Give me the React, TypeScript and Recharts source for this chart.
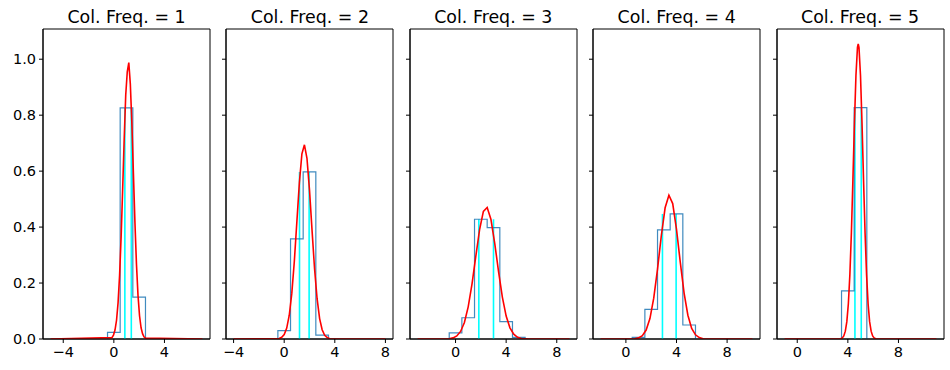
import { ComposedChart, Line, XAxis, YAxis, ReferenceLine, ReferenceArea } from 'recharts';

const titles = ['Col. Freq. = 1', 'Col. Freq. = 2', 'Col. Freq. = 3', 'Col. Freq. = 4', 'Col. Freq. = 5'];
const xDomains = [[-5.6, 7.6], [-4.6, 8.6], [-3.6, 9.6], [-2.6, 10.6], [-1.6, 11.6]];
const xTicks = [[-4, 0, 4], [-4, 0, 4, 8], [0, 4, 8], [0, 4, 8], [0, 4, 8]];
const yTicks = [0, 0.2, 0.4, 0.6, 0.8, 1.0];
const yMax = 1.108;

// histogram bins (step outline)
const binEdges1 = [-0.5, 0.5, 1.5, 2.5];
const binHeights1 = [0.024, 0.826, 0.15];
const binEdges2 = [-0.5, 0.5, 1.5, 2.5, 3.5];
const binHeights2 = [0.03, 0.358, 0.597, 0.014];
const binEdges3 = [-0.5, 0.5, 1.5, 2.5, 3.5, 4.5, 5.5];
const binHeights3 = [0.022, 0.076, 0.428, 0.398, 0.062, 0.006];
const binEdges4 = [0.5, 1.5, 2.5, 3.5, 4.5, 5.5];
const binHeights4 = [0.006, 0.106, 0.39, 0.447, 0.05];
const binEdges5 = [3.5, 4.5, 5.5];
const binHeights5 = [0.172, 0.827];

// cyan markers
const cyan1 = [0.87, 1.38];
const cyan2 = [1.21, 1.97];
const cyan3 = [1.84, 3.0];
const cyan4 = [2.89, 3.97];
const cyan5 = [4.56, 5.06];

// red density curves
const curveX1 = [-5, -0.152, -0.03, 0.091, 0.212, 0.333, 0.455, 0.576, 0.697, 0.818, 0.939, 1.061, 1.182, 1.303, 1.424, 1.545, 1.667, 1.788, 1.909, 2.03, 2.152, 2.273, 2.394, 2.515, 7];
const curveY1 = [0, 0.005, 0.014, 0.032, 0.067, 0.129, 0.229, 0.366, 0.536, 0.716, 0.872, 0.955, 0.988, 0.911, 0.77, 0.593, 0.416, 0.267, 0.156, 0.083, 0.04, 0.018, 0.007, 0.003, 0];
const curveX2 = [-4, -0.6, -0.4, -0.2, 0, 0.2, 0.4, 0.6, 0.8, 1.0, 1.2, 1.4, 1.6, 1.8, 2.0, 2.2, 2.4, 2.6, 2.8, 3.0, 3.2, 3.4, 3.6, 3.8, 8];
const curveY2 = [0, 0.001, 0.002, 0.006, 0.016, 0.039, 0.085, 0.163, 0.277, 0.418, 0.559, 0.662, 0.694, 0.646, 0.532, 0.389, 0.251, 0.144, 0.073, 0.033, 0.013, 0.005, 0.001, 0, 0];
const curveX3 = [-3, -0.8, -0.5, -0.2, 0.1, 0.4, 0.7, 1.0, 1.3, 1.6, 1.9, 2.2, 2.5, 2.8, 3.1, 3.4, 3.7, 4.0, 4.3, 4.6, 4.9, 5.2, 5.5, 5.8, 9];
const curveY3 = [0, 0, 0.001, 0.004, 0.011, 0.027, 0.059, 0.115, 0.196, 0.295, 0.391, 0.456, 0.47, 0.427, 0.341, 0.241, 0.15, 0.082, 0.04, 0.017, 0.006, 0.002, 0.001, 0, 0];
const curveX4 = [-2, 0.7, 1.0, 1.3, 1.6, 1.9, 2.2, 2.5, 2.8, 3.1, 3.4, 3.7, 4.0, 4.3, 4.6, 4.9, 5.2, 5.5, 5.8, 6.1, 10];
const curveY4 = [0, 0.001, 0.004, 0.012, 0.032, 0.073, 0.146, 0.25, 0.369, 0.469, 0.514, 0.484, 0.392, 0.274, 0.164, 0.085, 0.038, 0.015, 0.005, 0.001, 0];
const curveX5 = [-1, 3.44, 3.56, 3.68, 3.8, 3.92, 4.04, 4.16, 4.28, 4.4, 4.52, 4.64, 4.76, 4.82, 4.88, 5.0, 5.12, 5.24, 5.36, 5.48, 5.6, 5.72, 5.84, 5.96, 6.08, 6.2, 11];
const curveY5 = [0, 0.001, 0.004, 0.011, 0.028, 0.062, 0.126, 0.23, 0.38, 0.569, 0.77, 0.942, 1.042, 1.055, 1.042, 0.942, 0.77, 0.569, 0.38, 0.23, 0.126, 0.062, 0.028, 0.011, 0.004, 0.001, 0];

const binEdges = [binEdges1, binEdges2, binEdges3, binEdges4, binEdges5];
const binHeights = [binHeights1, binHeights2, binHeights3, binHeights4, binHeights5];
const cyanLines = [cyan1, cyan2, cyan3, cyan4, cyan5];
const curveXs = [curveX1, curveX2, curveX3, curveX4, curveX5];
const curveYs = [curveY1, curveY2, curveY3, curveY4, curveY5];

const PLOT_W = 167;
const Y_AXIS_W = 45;
const panelLeft = [43, 226.4, 409.8, 593.2, 776.6];

const fmtX = (v: number) => String(v).replace('-', '\u2212');

function stepPoints(edges: number[], heights: number[]) {
  const pts = [{ x: edges[0], y: 0 }];
  heights.forEach((h, i) => pts.push({ x: edges[i], y: h }));
  pts.push({ x: edges[edges.length - 1], y: 0 });
  return pts;
}

function Panel({ i }: { i: number }) {
  const hist = stepPoints(binEdges[i], binHeights[i]);
  const curve = curveXs[i].map((x, k) => ({ x, y: curveYs[i][k] }));
  const top = Math.max(...binHeights[i]);
  const tickStyle = { fontSize: 14.5, fill: '#000' };
  const [x0, x1] = xDomains[i];

  return (
    <div style={{ position: 'absolute', left: panelLeft[i] - Y_AXIS_W, top: 0 }}>
      <ComposedChart width={Y_AXIS_W + PLOT_W + 8} height={370} margin={{ top: 29, right: 8, bottom: 0, left: 0 }}>
        <XAxis
          dataKey="x"
          type="number"
          domain={xDomains[i]}
          ticks={xTicks[i]}
          allowDataOverflow
          height={31}
          tick={tickStyle}
          tickFormatter={fmtX}
          tickSize={4}
          tickMargin={4}
          stroke="#000"
        />
        <YAxis
          type="number"
          domain={[0, yMax]}
          ticks={yTicks}
          allowDataOverflow
          width={Y_AXIS_W}
          tick={tickStyle}
          tickFormatter={(v: number) => (i === 0 ? v.toFixed(1) : '')}
          tickSize={4}
          tickMargin={3}
          stroke="#000"
        />
        {cyanLines[i].map((c) => (
          <ReferenceLine key={c} segment={[{ x: c, y: 0 }, { x: c, y: top }]} stroke="#00ffff" strokeWidth={1.6} />
        ))}
        <Line data={hist} dataKey="y" type="stepAfter" stroke="#1f77b4" strokeOpacity={0.85} strokeWidth={1.2} dot={false} isAnimationActive={false} />
        <Line data={curve} dataKey="y" type="linear" stroke="#ff0000" strokeWidth={1.6} dot={false} isAnimationActive={false} />
        <ReferenceArea x1={x0} x2={x1} y1={0} y2={yMax} fill="none" fillOpacity={0} stroke="#000" strokeWidth={1} />
      </ComposedChart>
      <div
        style={{
          position: 'absolute',
          left: Y_AXIS_W,
          top: 6.7,
          width: PLOT_W,
          textAlign: 'center',
          fontSize: 17.4,
          lineHeight: '20px',
          color: '#000',
          whiteSpace: 'nowrap',
        }}
      >
        {titles[i]}
      </div>
    </div>
  );
}

export default function App() {
  return (
    <div
      style={{
        position: 'absolute',
        left: 0,
        top: 0,
        width: 950,
        height: 370,
        background: '#fff',
        fontFamily: '"DejaVu Sans", sans-serif',
      }}
    >
      {titles.map((_, i) => (
        <Panel key={i} i={i} />
      ))}
    </div>
  );
}
